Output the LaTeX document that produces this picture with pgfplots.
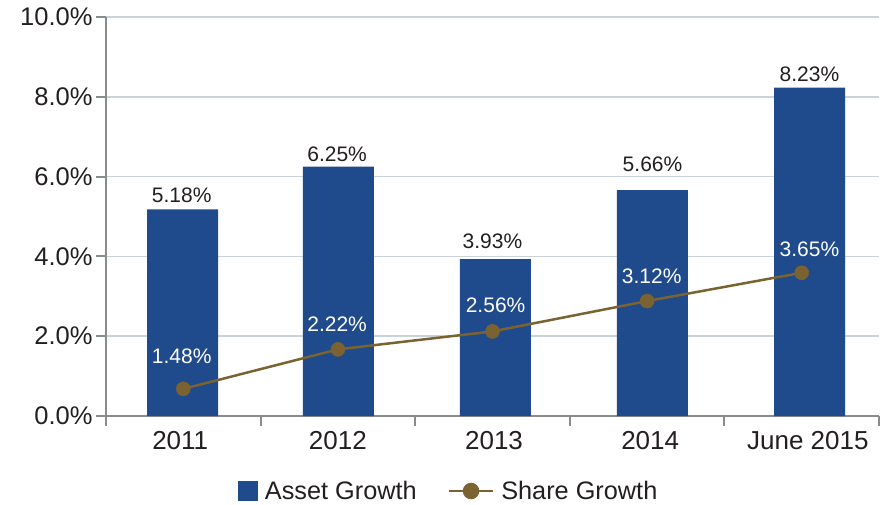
\documentclass[border=0pt]{standalone}
\usepackage{pgfplots}
\pgfplotsset{compat=1.18}
\usepackage{fontspec}
\setmainfont{Liberation Sans}
\definecolor{barblue}{RGB}{31,74,139}
\definecolor{linebrown}{RGB}{122,99,48}
\definecolor{gridc}{RGB}{200,211,220}
\definecolor{axisgray}{RGB}{138,140,140}
\definecolor{txt}{RGB}{35,31,32}
\begin{document}
\begin{tikzpicture}
\useasboundingbox (-106pt,-88pt) rectangle (782pt,416pt);
\begin{axis}[
  scale only axis, width=773pt, height=399pt,
  xmin=-0.5, xmax=4.5, ymin=0, ymax=10,
  axis x line*=bottom, axis y line*=left,
  axis line style={axisgray, line width=2.5pt},
  ytick={0,2,...,10},
  yticklabel={\pgfmathprintnumber[fixed,fixed zerofill,precision=1]{\tick}\%},
  /pgf/number format/assume math mode=true,
  xtick={-0.02,1.0,2.01,3.02,4.04},
  xticklabels={2011,2012,2013,2014,June 2015},
  minor xtick={-0.5,0.5,1.5,2.5,3.5,4.5},
  tick align=outside,
  major tick length=10pt, minor tick length=10pt,
  every tick/.style={axisgray, line width=2pt},
  major x tick style={draw=none},
  ymajorgrids, major y grid style={gridc, line width=1.5pt},
  yticklabel style={font=\fontsize{25.5}{30}\selectfont, text=txt},
  xticklabel style={font=\fontsize{26}{30}\selectfont, text=txt, yshift=-2pt},
  legend columns=2,
  legend style={at={(rel axis cs:0.442,-0.188)}, anchor=center, draw=none, fill=none,
    font=\fontsize{25.3}{30}\selectfont, text=txt,
    nodes={inner sep=0pt},
    /tikz/every odd column/.append style={column sep=7pt},
    /tikz/every even column/.append style={column sep=31pt}},
]
\addplot[ybar, bar width=71pt, fill=barblue, draw=none,
  legend image code/.code={\fill[barblue] (0pt,-10pt) rectangle (20pt,10pt);}]
  coordinates {(-0.005,5.18) (1.003,6.25) (2.019,3.93) (3.034,5.66) (4.051,8.23)};
\addlegendentry{Asset Growth}
\addplot[linebrown, line width=2.5pt, mark=*, mark size=7pt,
  mark options={fill=linebrown, draw=linebrown, line width=0.5pt},
  legend image code/.code={\draw[linebrown, line width=2.5pt] (0pt,0pt) -- (44pt,0pt); \fill[linebrown] (22pt,0pt) circle (7pt);}]
  coordinates {(0,0.68) (1,1.67) (2,2.12) (3,2.88) (4,3.59)};
\addlegendentry{Share Growth}
\addplot[forget plot, draw=none, mark=none, nodes near coords, point meta=explicit symbolic,
  nodes near coords style={anchor=base, font=\fontsize{21}{25}\selectfont, text=txt, inner sep=0pt}]
  coordinates {(-0.01,5.35)[5.18\%] (0.995,6.39)[6.25\%] (2.0,4.21)[3.93\%] (3.035,6.12)[5.66\%] (4.05,8.38)[8.23\%]};
\addplot[forget plot, draw=none, mark=none, nodes near coords, point meta=explicit symbolic,
  nodes near coords style={anchor=base, font=\fontsize{21}{25}\selectfont, text=white, inner sep=0pt}]
  coordinates {(-0.01,1.32)[1.48\%] (0.995,2.13)[2.22\%] (2.02,2.60)[2.56\%] (3.03,3.33)[3.12\%] (4.05,4.01)[3.65\%]};
\end{axis}
\end{tikzpicture}
\end{document}
